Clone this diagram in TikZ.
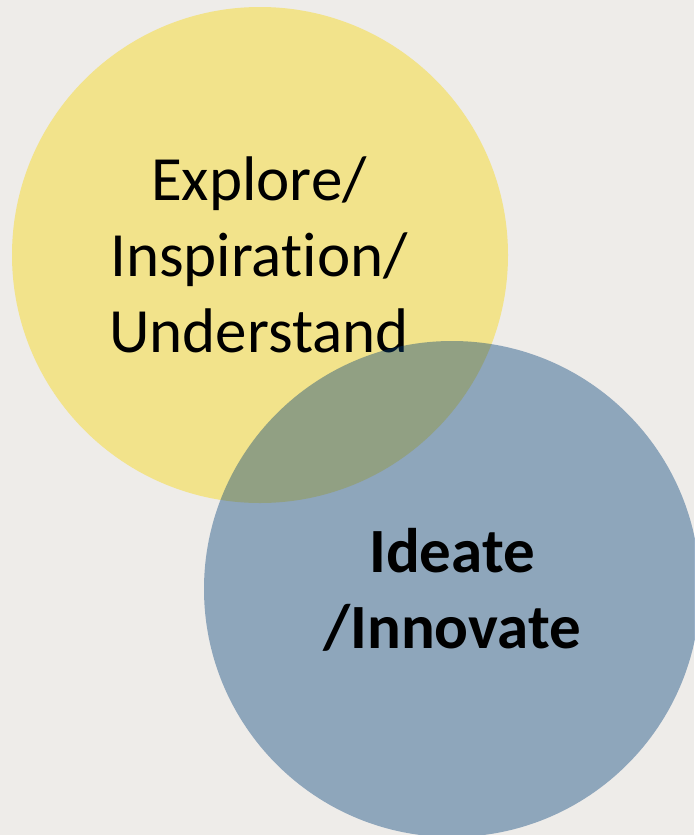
\documentclass[tikz,border=0pt]{standalone}
\usepackage{fontspec}
\setmainfont[Ligatures={NoCommon,NoRare,NoContextual}]{Carlito}
\definecolor{bgc}{RGB}{238,236,233}
\definecolor{yel}{RGB}{242,227,139}
\definecolor{navy}{RGB}{0,61,120}
\begin{document}
\begin{tikzpicture}[x=1pt,y=-1pt,
  lbl/.style={align=center,inner sep=0pt,font=\fontsize{63}{76}\selectfont}]
\fill[bgc] (0,0) rectangle (694,835);
\useasboundingbox (0,0) rectangle (694,835);
\fill[yel] (260,255) circle[radius=248];
\node[lbl] (explore) at (259,255) {Explore/\\Inspirat\kern0pt ion/\\Understand};
\fill[navy,fill opacity=0.4] (452,589) circle[radius=248];
\node[lbl,font=\fontsize{63}{76}\selectfont\bfseries] (ideate) at (452,590) {Ideate\\/Innovate};
\end{tikzpicture}
\end{document}
